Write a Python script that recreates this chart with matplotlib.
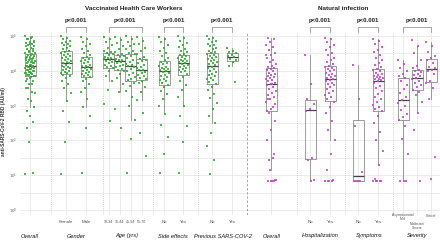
import numpy as np
import matplotlib
matplotlib.use('Agg')
import matplotlib.pyplot as plt
from matplotlib import cbook

plt.rcParams['font.family'] = ['Liberation Sans', 'DejaVu Sans']
plt.rcParams['mathtext.default'] = 'regular'

# anti-SARS-CoV-2 RBD, log10(AU/ml)
vacc_female = [4.99, 4.95, 4.91, 4.87, 4.84, 4.80, 4.77, 4.73, 4.70, 4.66, 4.62, 4.58,
               4.55, 4.52, 4.49, 4.46, 4.43, 4.40, 4.37, 4.34, 4.31, 4.28, 4.25, 4.23,
               4.21, 4.18, 4.15, 4.12, 4.10, 4.07, 4.04, 4.02, 3.99, 3.97, 3.95, 3.93,
               3.89, 3.84, 3.78, 3.71, 3.62, 3.50, 3.36, 3.12, 2.85, 2.52, 1.95, 1.02]
vacc_male = [4.97, 4.90, 4.83, 4.76, 4.70, 4.63, 4.57, 4.51, 4.46, 4.41,
             4.38, 4.35, 4.31, 4.28, 4.24, 4.21, 4.18, 4.15, 4.13, 4.11,
             4.09, 4.06, 4.03, 4.00, 3.97, 3.94, 3.91, 3.88, 3.85, 3.82,
             3.77, 3.70, 3.62, 3.51, 3.38, 3.20, 2.95, 2.70, 2.35, 1.05]
vacc_age_18_34 = [4.98, 4.90, 4.82, 4.74, 4.66, 4.58, 4.54, 4.51, 4.48, 4.45, 4.41, 4.38, 4.36, 4.34,
                  4.32, 4.29, 4.25, 4.21, 4.17, 4.13, 4.10, 4.07, 3.98, 3.86, 3.70, 3.45, 3.05, 2.55]
vacc_age_35_44 = [4.97, 4.88, 4.79, 4.70, 4.62, 4.54, 4.49, 4.45, 4.42, 4.39, 4.35, 4.32, 4.30, 4.28,
                  4.26, 4.22, 4.18, 4.14, 4.10, 4.06, 4.03, 3.99, 3.90, 3.78, 3.62, 3.38, 2.90, 2.35]
vacc_age_45_54 = [4.99, 4.91, 4.84, 4.77, 4.70, 4.63, 4.57, 4.52, 4.48, 4.42, 4.36, 4.30, 4.24, 4.19, 4.16, 4.14,
                  4.11, 4.05, 3.99, 3.93, 3.87, 3.82, 3.77, 3.74, 3.66, 3.55, 3.42, 3.25, 3.00, 2.60, 2.05, 1.05]
vacc_age_55_70 = [4.96, 4.86, 4.76, 4.66, 4.57, 4.49, 4.41, 4.35, 4.31, 4.27, 4.22, 4.17, 4.12, 4.07, 4.03,
                  4.01, 3.97, 3.93, 3.88, 3.84, 3.80, 3.76, 3.72, 3.64, 3.53, 3.38, 3.15, 2.80, 2.20, 1.55]
vacc_side_no = [4.98, 4.90, 4.82, 4.74, 4.66, 4.58, 4.50, 4.43, 4.37, 4.31, 4.26, 4.23, 4.19, 4.15,
                4.12, 4.09, 4.06, 4.04, 4.02, 4.00, 3.97, 3.93, 3.89, 3.85, 3.81, 3.77, 3.73, 3.70,
                3.66, 3.60, 3.52, 3.43, 3.32, 3.18, 3.00, 2.75, 2.45, 2.10, 1.60, 1.05]
vacc_side_yes = [4.99, 4.93, 4.87, 4.81, 4.75, 4.69, 4.63, 4.58, 4.53, 4.49, 4.46, 4.43, 4.40, 4.37,
                 4.34, 4.31, 4.29, 4.27, 4.25, 4.23, 4.20, 4.17, 4.14, 4.11, 4.08, 4.05, 4.02, 3.99,
                 3.96, 3.90, 3.82, 3.72, 3.60, 3.45, 3.25, 3.00, 2.70, 2.40, 1.95, 1.05]
vacc_prev_no = [4.99, 4.95, 4.90, 4.86, 4.82, 4.78, 4.74, 4.70, 4.66, 4.62, 4.58, 4.55, 4.52,
                4.49, 4.46, 4.43, 4.40, 4.37, 4.33, 4.30, 4.27, 4.24, 4.22, 4.20, 4.16, 4.12,
                4.08, 4.04, 4.00, 3.96, 3.92, 3.88, 3.84, 3.80, 3.77, 3.74, 3.68, 3.61, 3.53,
                3.44, 3.34, 3.22, 3.08, 2.90, 2.70, 2.50, 2.20, 1.85, 1.45, 1.02]
vacc_prev_yes = [4.66, 4.58, 4.53, 4.50, 4.46, 4.42, 4.39, 4.35, 4.30, 4.26, 4.15, 3.68]

inf_hosp_no = [4.45, 3.62, 3.20, 3.05, 2.90, 2.85, 1.50, 1.45, 0.85, 0.83]
inf_hosp_yes = [4.95, 4.90, 4.83, 4.75, 4.68, 4.60, 4.52, 4.45, 4.38, 4.31, 4.25, 4.19, 4.14,
                4.10, 4.07, 4.04, 4.01, 3.98, 3.95, 3.92, 3.89, 3.86, 3.83, 3.80, 3.77,
                3.74, 3.70, 3.66, 3.62, 3.58, 3.53, 3.48, 3.42, 3.36, 3.30, 3.24, 3.18,
                3.10, 2.95, 2.78, 2.55, 2.30, 2.00, 1.60, 1.15, 0.85, 0.83, 0.83, 0.83, 0.83]
inf_sympt_no = [4.17, 3.20, 2.40, 1.10, 0.83, 0.83, 0.83, 0.83]
inf_sympt_yes = [4.92, 4.85, 4.77, 4.69, 4.61, 4.53, 4.46, 4.38, 4.30, 4.23, 4.16, 4.10, 4.05,
                 4.01, 3.98, 3.95, 3.92, 3.89, 3.86, 3.83, 3.81, 3.79, 3.77, 3.75, 3.73,
                 3.70, 3.64, 3.57, 3.50, 3.42, 3.34, 3.26, 3.18, 3.10, 3.03, 2.96, 2.90,
                 2.84, 2.70, 2.50, 2.25, 2.00, 1.70, 1.30, 0.90, 0.83, 0.83, 0.83, 0.83, 0.83]
inf_sev_mild = [4.31, 4.20, 4.08, 3.98, 3.90, 3.84, 3.80, 3.72, 3.60, 3.48, 3.36, 3.25, 3.16,
                3.08, 2.98, 2.86, 2.76, 2.68, 2.58, 2.40, 2.05, 1.60, 0.83, 0.83, 0.83]
inf_sev_moderate = [4.89, 4.70, 4.50, 4.30, 4.15, 4.08, 4.03, 4.00, 3.96, 3.92, 3.88, 3.84, 3.79,
                    3.75, 3.71, 3.66, 3.60, 3.52, 3.46, 3.40, 3.30, 3.10, 2.80, 2.30, 0.83]
inf_sev_critical = [4.83, 4.70, 4.55, 4.42, 4.36, 4.30, 4.22, 4.12, 4.07, 4.03, 3.98, 3.90,
                    3.72, 3.66, 3.50, 3.20, 1.52, 0.90]

vacc_overall = vacc_female + vacc_male
inf_overall = inf_hosp_no + inf_hosp_yes

tick_labels = ['', 'Female', 'Male', '18-34', '35-44', '45-54', '55-70', 'No', 'Yes', 'No', 'Yes',
               '', 'No', 'Yes', 'No', 'Yes']
facet_labels = ['Overall', 'Gender', 'Age (yrs)', 'Side effects', 'Previous SARS-COV-2',
                'Overall', 'Hospitalization', 'Symptoms', 'Severity']
severity_labels = ['Asymptomatic/\nMild', 'Moderate/\nSevere', 'Critical']
p_labels = ['p<0.001'] * 7

GREEN = '#33a833'
PURPLE = '#b94cc4'

# x positions are in figure pixels (axes spans px 20..440)
groups = [
    (vacc_overall, 30, GREEN),
    (vacc_female, 66, GREEN), (vacc_male, 86, GREEN),
    (vacc_age_18_34, 108.5, GREEN), (vacc_age_35_44, 119.5, GREEN),
    (vacc_age_45_54, 130.5, GREEN), (vacc_age_55_70, 141.5, GREEN),
    (vacc_side_no, 164, GREEN), (vacc_side_yes, 183, GREEN),
    (vacc_prev_no, 212, GREEN), (vacc_prev_yes, 232, GREEN),
    (inf_overall, 271, PURPLE),
    (inf_hosp_no, 310, PURPLE), (inf_hosp_yes, 330, PURPLE),
    (inf_sympt_no, 358, PURPLE), (inf_sympt_yes, 378, PURPLE),
    (inf_sev_mild, 403, PURPLE), (inf_sev_moderate, 417, PURPLE), (inf_sev_critical, 431, PURPLE),
]
facet_x = [30, 76, 127, 173, 223, 272, 320, 369, 417]
separators = [51, 103, 153, 198, 297, 345, 393]
brackets = [(66, 86), (108.5, 141.5), (164, 183), (212, 232), (310, 330), (358, 378), (403, 431)]

W, H = 440, 241
AX_L, AX_R, AX_T, AX_B = 20, 440, 33, 215


def ay(py):
    return (AX_B - py) / (AX_B - AX_T)


fig = plt.figure(figsize=(W / 100, H / 100), dpi=100)
ax = fig.add_axes([AX_L / W, 1 - AX_B / H, (AX_R - AX_L) / W, (AX_B - AX_T) / H])
ax.set_yscale('log')
ax.set_xlim(AX_L, AX_R)
ax.set_ylim(10 ** -0.144, 10 ** 5.086)
for s in ax.spines.values():
    s.set_visible(False)
ax.set_xticks([])
ax.minorticks_off()
ax.set_yticks([10.0 ** k for k in range(6)])
ax.set_yticklabels(['$10^{%d}$' % k for k in range(6)], fontsize=3.2, color='#666666')
ax.tick_params(axis='y', length=0, pad=2)

for k in range(11):
    ax.axhline(10 ** (k / 2), color='#e4e4e4', lw=0.5, zorder=0)
for vals, xp, col in groups:
    ax.axvline(xp, color='#e4e4e4', lw=0.5, zorder=0)
for xs in separators:
    ax.axvline(xs, color='#c4c4c4', lw=0.6, ls=(0, (1, 1.5)), zorder=0)
ax.axvline(247, color='#999999', lw=0.6, ls=(0, (3, 2)), zorder=0)

for vals, xp, col in groups:
    v = np.array(vals)
    st = cbook.boxplot_stats(v)[0]
    for key in ('med', 'q1', 'q3', 'whislo', 'whishi', 'mean'):
        st[key] = 10 ** st[key]
    st['fliers'] = np.array([])
    ax.bxp([st], positions=[xp], widths=11, showfliers=False, showcaps=False,
           manage_ticks=False,
           boxprops=dict(color='#8c8c8c', lw=0.6),
           whiskerprops=dict(color='#8c8c8c', lw=0.6),
           medianprops=dict(color='#444444', lw=0.9))
    off = ((np.arange(len(v)) * 0.618034) % 1 - 0.5) * 10
    ax.scatter(xp + off, 10 ** v, s=2.2, c=col, alpha=0.85, lw=0, marker='s', zorder=3)

tr = ax.get_xaxis_transform()
xs_ticks = [g[1] for g in groups if g[2] == GREEN] + [g[1] for g in groups if g[2] == PURPLE][:5]
for xp, lab in zip(xs_ticks, tick_labels):
    fs = 2.6 if '-' in lab else 3.2
    ax.text(xp, ay(222), lab, transform=tr, ha='center', va='center', fontsize=fs, color='#555555')
for (vals, xp, col), lab, py in zip(groups[-3:], severity_labels, [217, 226, 216]):
    ax.text(xp, ay(py), lab, transform=tr, ha='center', va='center', fontsize=2.4,
            color='#555555', linespacing=1.1)
for xp, lab in zip(facet_x, facet_labels):
    ax.text(xp, ay(236), lab, transform=tr, ha='center', va='center', fontsize=4.1,
            style='italic', color='#111111')

for (x0, x1), lab in zip(brackets, p_labels):
    ax.plot([x0, x0, x1, x1], [ay(32), ay(27), ay(27), ay(32)], transform=tr,
            color='#9a9a9a', lw=0.6, clip_on=False)
    ax.text((x0 + x1) / 2, ay(20), lab, transform=tr, ha='center', va='center',
            fontsize=4.4, fontweight='bold', color='#222222')

fig.text(134 / W, 1 - 8 / H, 'Vaccinated Health Care Workers', ha='center', va='center',
         fontsize=4.6, fontweight='bold', color='#222222')
fig.text(343 / W, 1 - 8 / H, 'Natural infection', ha='center', va='center',
         fontsize=4.6, fontweight='bold', color='#222222')
fig.text(4 / W, 1 - 122 / H, 'anti-SARS-CoV-2 RBD (AU/ml)', rotation=90, ha='center',
         va='center', fontsize=3.4, fontweight='bold', color='#333333')

fig.savefig('out.png', dpi=100)
